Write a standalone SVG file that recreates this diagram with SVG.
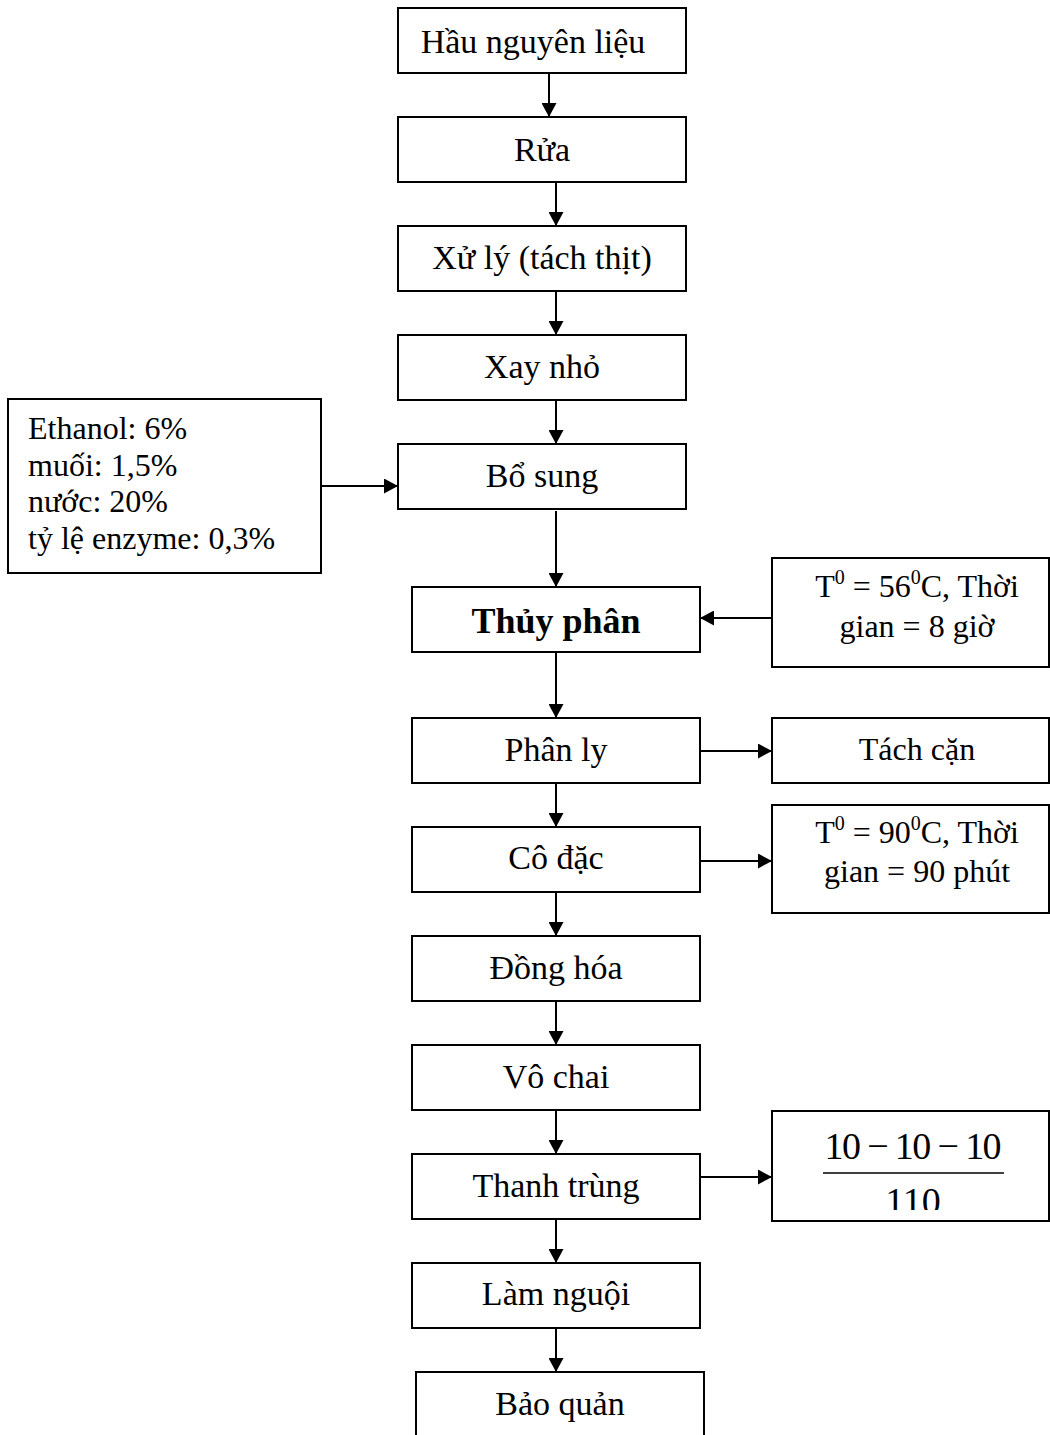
<svg xmlns="http://www.w3.org/2000/svg" width="1050" height="1435" viewBox="0 0 1050 1435">
<style>
.box{fill:#fff;stroke:#000;stroke-width:2}
.t{font-family:"Liberation Serif","Times New Roman",serif;font-size:34px;text-anchor:middle;fill:#000}
.l{font-family:"Liberation Serif","Times New Roman",serif;font-size:32px;fill:#000}
.r{font-family:"Liberation Serif","Times New Roman",serif;font-size:32px;text-anchor:middle;fill:#000}
.b{font-family:"Liberation Serif","Times New Roman",serif;font-size:36px;font-weight:bold;text-anchor:middle;fill:#000}
.f{font-family:"Liberation Serif","Times New Roman",serif;font-size:38px;text-anchor:middle;fill:#000}
.c{stroke:#000;stroke-width:2;fill:none;marker-end:url(#ah)}
</style>
<defs>
<marker id="ah" markerWidth="14" markerHeight="15" refX="14" refY="7.5" orient="auto" markerUnits="userSpaceOnUse"><path d="M0,0 L14,7.5 L0,15 z" fill="#000"/></marker>
<clipPath id="fc"><rect x="772" y="1111" width="278" height="99"/></clipPath>
</defs>
<rect width="1050" height="1435" fill="#fff"/>
<g id="connectors">
<line class="c" x1="549" y1="73" x2="549" y2="117"/>
<line class="c" x1="556" y1="182" x2="556" y2="226"/>
<line class="c" x1="556" y1="291" x2="556" y2="335"/>
<line class="c" x1="556" y1="400" x2="556" y2="444"/>
<line class="c" x1="321" y1="486" x2="398" y2="486"/>
<line class="c" x1="556" y1="511" x2="556" y2="587"/>
<line class="c" x1="772" y1="618" x2="700" y2="618"/>
<line class="c" x1="556" y1="652" x2="556" y2="718"/>
<line class="c" x1="700" y1="751" x2="772" y2="751"/>
<line class="c" x1="556" y1="783" x2="556" y2="827"/>
<line class="c" x1="700" y1="861" x2="772" y2="861"/>
<line class="c" x1="556" y1="892" x2="556" y2="936"/>
<line class="c" x1="556" y1="1001" x2="556" y2="1045"/>
<line class="c" x1="556" y1="1110" x2="556" y2="1154"/>
<line class="c" x1="700" y1="1177" x2="772" y2="1177"/>
<line class="c" x1="556" y1="1219" x2="556" y2="1263"/>
<line class="c" x1="556" y1="1328" x2="556" y2="1372"/>
</g>
<g id="n1"><rect class="box" x="398" y="8" width="288" height="65"/><text class="t" x="533" y="53">Hầu nguyên liệu</text></g>
<g id="n2"><rect class="box" x="398" y="117" width="288" height="65"/><text class="t" x="542" y="161">Rửa</text></g>
<g id="n3"><rect class="box" x="398" y="226" width="288" height="65"/><text class="t" x="542" y="269">Xử lý (tách thịt)</text></g>
<g id="n4"><rect class="box" x="398" y="335" width="288" height="65"/><text class="t" x="542" y="378">Xay nhỏ</text></g>
<g id="n5"><rect class="box" x="398" y="444" width="288" height="65"/><text class="t" x="542" y="487">Bổ sung</text></g>
<g id="add"><rect class="box" x="8" y="399" width="313" height="174"/>
<text class="l" x="28" y="439">Ethanol: 6%</text>
<text class="l" x="28" y="476">muối: 1,5%</text>
<text class="l" x="28" y="512">nước: 20%</text>
<text class="l" x="28" y="549">tỷ lệ enzyme: 0,3%</text></g>
<g id="n6"><rect class="box" x="412" y="587" width="288" height="65"/><text class="b" x="556" y="633">Thủy phân</text></g>
<g id="cond1"><rect class="box" x="772" y="558" width="277" height="109"/>
<text class="r" x="917" y="597">T<tspan font-size="20" dy="-13">0</tspan><tspan dy="13"> = 56</tspan><tspan font-size="20" dy="-13">0</tspan><tspan dy="13">C, Thời</tspan></text>
<text class="r" x="917" y="637">gian = 8 giờ</text></g>
<g id="n7"><rect class="box" x="412" y="718" width="288" height="65"/><text class="t" x="556" y="761">Phân ly</text></g>
<g id="waste"><rect class="box" x="772" y="718" width="277" height="65"/><text class="r" x="917" y="760">Tách cặn</text></g>
<g id="n8"><rect class="box" x="412" y="827" width="288" height="65"/><text class="t" x="556" y="869">Cô đặc</text></g>
<g id="cond2"><rect class="box" x="772" y="805" width="277" height="108"/>
<text class="r" x="917" y="843">T<tspan font-size="20" dy="-13">0</tspan><tspan dy="13"> = 90</tspan><tspan font-size="20" dy="-13">0</tspan><tspan dy="13">C, Thời</tspan></text>
<text class="r" x="917" y="882">gian = 90 phút</text></g>
<g id="n9"><rect class="box" x="412" y="936" width="288" height="65"/><text class="t" x="556" y="979">Đồng hóa</text></g>
<g id="n10"><rect class="box" x="412" y="1045" width="288" height="65"/><text class="t" x="556" y="1088">Vô chai</text></g>
<g id="n11"><rect class="box" x="412" y="1154" width="288" height="65"/><text class="t" x="556" y="1197">Thanh trùng</text></g>
<g id="cond3"><rect class="box" x="772" y="1111" width="277" height="110"/>
<text class="f" x="913" y="1159" textLength="177" lengthAdjust="spacing">10 − 10 − 10</text>
<line x1="823" y1="1173" x2="1004" y2="1173" stroke="#000" stroke-width="1.5"/>
<text class="f" x="913" y="1214" clip-path="url(#fc)">110</text></g>
<g id="n12"><rect class="box" x="412" y="1263" width="288" height="65"/><text class="t" x="556" y="1305">Làm nguội</text></g>
<g id="n13"><rect class="box" x="416" y="1372" width="288" height="75"/><text class="t" x="560" y="1415">Bảo quản</text></g>
</svg>
